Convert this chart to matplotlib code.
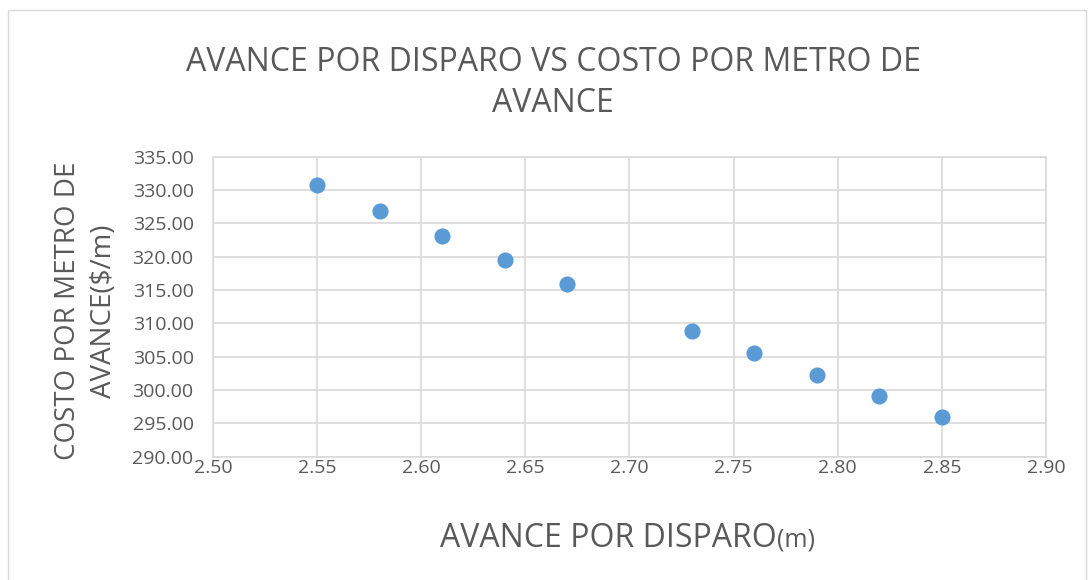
import matplotlib
matplotlib.use("Agg")
import matplotlib.pyplot as plt
from matplotlib.patches import Rectangle

avance = [2.55, 2.58, 2.61, 2.64, 2.67, 2.73, 2.76, 2.79, 2.82, 2.85]
costo = [330.75, 326.9, 323.1, 319.5, 315.86, 308.9, 305.6, 302.3, 299.06, 295.9]
x_ticks = [2.50, 2.55, 2.60, 2.65, 2.70, 2.75, 2.80, 2.85, 2.90]
y_ticks = [290, 295, 300, 305, 310, 315, 320, 325, 330, 335]

title = "AVANCE POR DISPARO VS COSTO POR METRO DE\nAVANCE"
ylabel = "COSTO POR METRO DE\nAVANCE($/m)"

plt.rcParams['font.family'] = ['Open Sans', 'DejaVu Sans']
TXT = '#595959'
GRID = '#d9d9d9'

fig = plt.figure(figsize=(10.89, 5.80), dpi=100)
fig.patches.append(Rectangle((0.007, -0.01), 0.99, 0.993, transform=fig.transFigure,
                             fill=False, edgecolor='#d9d9d9', linewidth=1.0))
ax = fig.add_axes([0.1956, 0.2126, 0.7649, 0.5172])

ax.scatter(avance, costo, s=135, color='#5b9bd5', zorder=3, linewidths=0)
ax.set_xlim(2.50, 2.90)
ax.set_ylim(290, 335)
ax.set_xticks(x_ticks)
ax.set_yticks(y_ticks)
ax.set_xticklabels([f"{v:.2f}" for v in x_ticks])
ax.set_yticklabels([f"{v:.2f}" for v in y_ticks])
ax.grid(True, color=GRID, linewidth=1.2)
ax.set_axisbelow(True)
for s in ax.spines.values():
    s.set_color(GRID)
    s.set_linewidth(1.2)
ax.tick_params(length=0, labelsize=14, colors=TXT)
ax.tick_params(axis='y', pad=14)
ax.tick_params(axis='x', pad=2)

fig.text(0.508, 0.857, title, ha='center', va='center', fontsize=23, color=TXT,
         linespacing=1.35)
fig.text(0.079, 0.464, ylabel, ha='center', va='center', rotation=90, fontsize=20,
         color=TXT, linespacing=1.4)
fig.text(0.7135, 0.057, "AVANCE POR DISPARO", ha='right', va='baseline', fontsize=23, color=TXT)
fig.text(0.7135, 0.057, "(m)", ha='left', va='baseline', fontsize=18, color=TXT)

fig.savefig("out.png", dpi=100, facecolor='white')
